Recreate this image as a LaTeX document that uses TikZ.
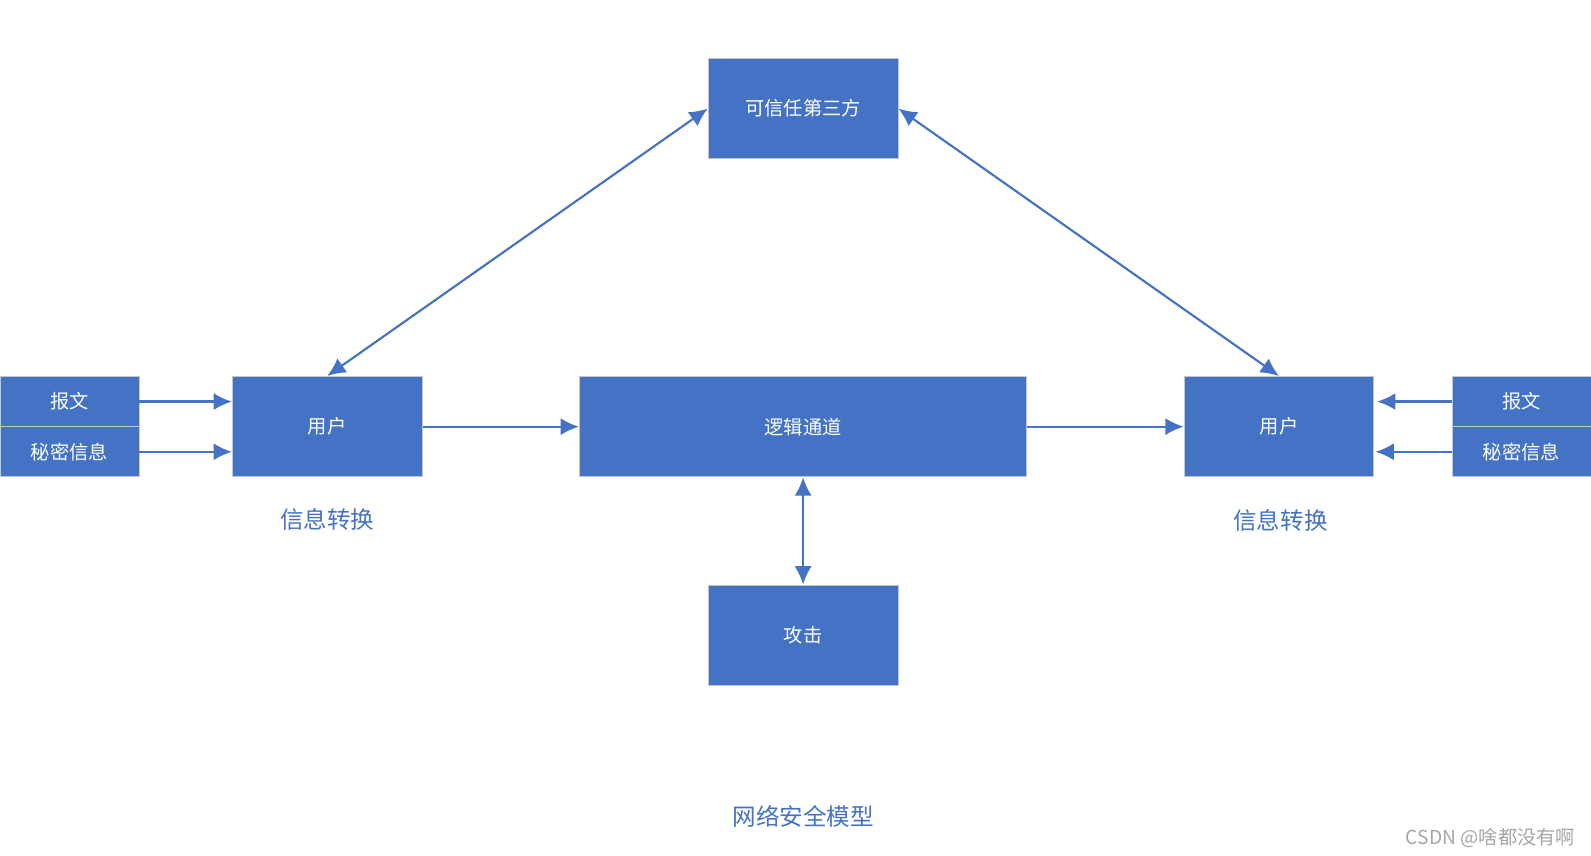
\documentclass[tikz,border=0pt]{standalone}
\usepackage{fontspec}
\setmainfont{Noto Sans CJK SC}
\usetikzlibrary{arrows.meta}

\definecolor{boxblue}{HTML}{4472C4}
\definecolor{markgray}{HTML}{A6A6A6}

\begin{document}
\begin{tikzpicture}[x=0.025cm, y=-0.025cm,
  block/.style={draw=gray!45, line width=0.6pt, fill=boxblue, text=white,
    inner sep=0pt, font=\fontsize{13.5}{16}\selectfont},
  wide/.style={block, minimum width=4.675cm, minimum height=2.475cm},
  half/.style={block, minimum width=3.425cm, minimum height=1.2375cm},
  link/.style={boxblue, line width=1.5pt, -{Latex[length=0.45cm, width=0.42cm]}},
  twolink/.style={link, {Latex[length=0.45cm, width=0.42cm]}-{Latex[length=0.45cm, width=0.42cm]}},
  caption/.style={text=boxblue, font=\fontsize{16.5}{20}\selectfont}]
  \useasboundingbox (0,0) rectangle (1568,843.6);

  \node[wide] (third) at (791.5,107) {可信任第三方};
  \node[wide] (userL) at (322.5,420.5) {用户};
  \node[wide] (userR) at (1260.5,420.5) {用户};
  \node[wide, minimum width=11.025cm] (channel) at (791.5,420.5) {逻辑通道};
  \node[wide] (attack) at (791.5,626) {攻击};

  \node[half] (msgL) at (68.5,395.75) {报文};
  \node[half] (secretL) at (68.5,445.25) {秘密信息};
  \node[half] (msgR) at (1499.5,395.75) {报文};
  \node[half] (secretR) at (1499.5,445.25) {秘密信息};

  \draw[link] (msgL.east) -- (msgL.east -| userL.west);
  \draw[link] (secretL.east) -- (secretL.east -| userL.west);
  \draw[link, shorten >=0.07cm] (msgR.west) -- (msgR.west -| userR.east);
  \draw[link, shorten >=0.03cm] (secretR.west) -- (secretR.west -| userR.east);
  \draw[link] (userL.east) -- (channel.west);
  \draw[link] (channel.east) -- (userR.west);
  \draw[twolink] (userL.north) -- (third.west);
  \draw[twolink] (userR.north) -- (third.east);
  \draw[twolink] (channel.south) -- (attack.north);

  \node[caption] (convL) at (322.5,512) {信息转换};
  \node[caption] (convR) at (1262,513) {信息转换};
  \node[caption] (title) at (791.5,805) {网络安全模型};
  \node[text=markgray, font=\fontsize{13.5}{16}\selectfont] (mark) at (1469,826) {CSDN @啥都没有啊};
\end{tikzpicture}
\end{document}
